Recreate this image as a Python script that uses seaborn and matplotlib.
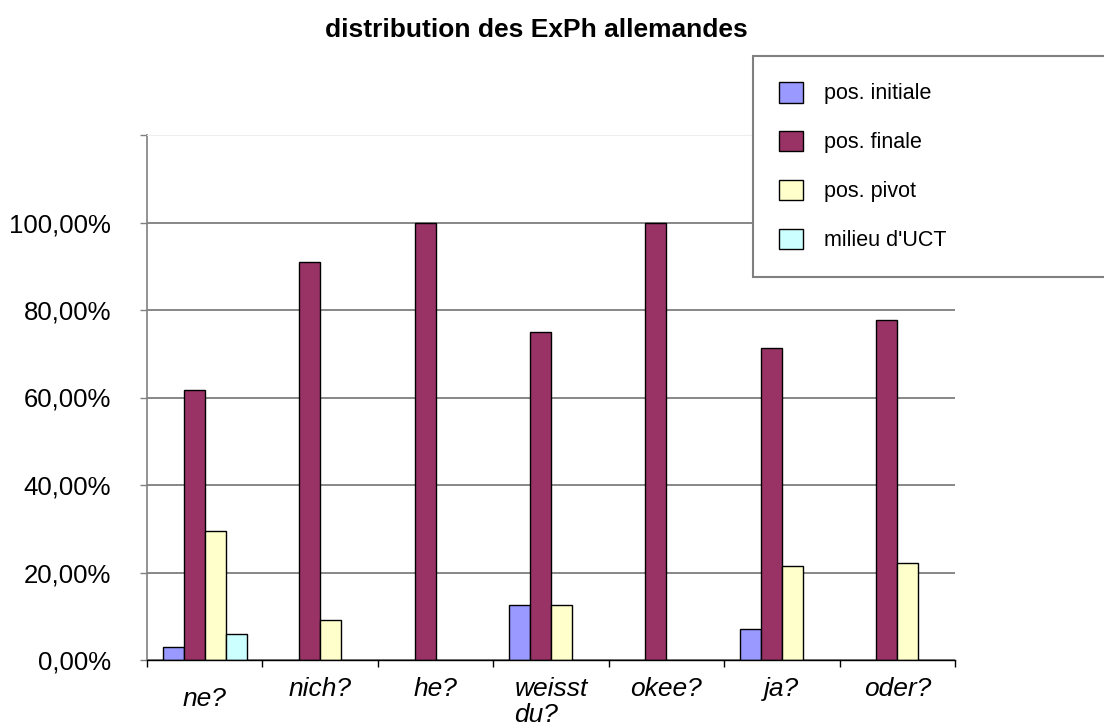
import numpy as np
import pandas as pd
import seaborn as sns
import matplotlib.pyplot as plt
from matplotlib.patches import Patch
from matplotlib.transforms import ScaledTranslation

# values (fractions)
categories = ["ne?", "nich?", "he?", "weisst\ndu?", "okee?", "ja?", "oder?"]
series = ["pos. initiale", "pos. finale", "pos. pivot", "milieu d'UCT"]
pos_initiale = [0.030, 0.0, 0.0, 0.125, 0.0, 0.071, 0.0]
pos_finale = [0.617, 0.909, 1.0, 0.750, 1.0, 0.714, 0.778]
pos_pivot = [0.294, 0.091, 0.0, 0.125, 0.0, 0.215, 0.222]
milieu_uct = [0.059, 0.0, 0.0, 0.0, 0.0, 0.0, 0.0]
colors = ["#9999FF", "#993366", "#FFFFCC", "#CCFFFF"]
yticks = [0.0, 0.2, 0.4, 0.6, 0.8, 1.0, 1.2]

rows = []
for s, vals in zip(series, [pos_initiale, pos_finale, pos_pivot, milieu_uct]):
    for c, v in zip(categories, vals):
        if v > 0:
            rows.append({"cat": c, "series": s, "value": v})
df = pd.DataFrame(rows)

sns.set_style("white")
plt.rcParams["font.family"] = ["Liberation Sans", "DejaVu Sans"]
plt.rcParams["text.color"] = "black"
plt.rcParams["xtick.color"] = "black"
plt.rcParams["ytick.color"] = "black"

fig = plt.figure(figsize=(11.04, 7.28), dpi=100)
ax = fig.add_axes([147 / 1104, 1 - 660 / 728, (955 - 147) / 1104, (660 - 135) / 728])

sns.barplot(data=df, x="cat", y="value", hue="series", order=categories,
            hue_order=series, palette=colors, width=0.73, errorbar=None,
            edgecolor="black", linewidth=1, saturation=1, legend=False, ax=ax)

ax.set_xlim(-0.5, len(categories) - 0.5)
ax.set_ylim(0, 1.2)
ax.set_xlabel("")
ax.set_ylabel("")

# y axis
ax.set_yticks(yticks)
ax.set_yticklabels([(f"{v * 100:.2f}%").replace(".", ",") if v < 1.1 else "" for v in yticks],
                   fontsize=18.5, color="black")
ax.tick_params(axis="y", length=5, color="#808080", width=1, pad=21, left=True)
ax.yaxis.grid(True, color="#737373", linewidth=1.2)
ax.get_ygridlines()[-1].set_visible(False)
ax.set_axisbelow(True)

# x axis: labels at centres, tick marks at category boundaries
ax.set_xticks(range(len(categories)))
ax.set_xticklabels(categories, fontsize=19, style="italic", linespacing=1.12,
                   multialignment="left", color="black")
ax.set_xticks(np.arange(-0.5, len(categories), 1.0), minor=True)
ax.tick_params(axis="x", which="major", length=0, pad=12, bottom=True)
ax.tick_params(axis="x", which="minor", length=5, color="black", width=1, bottom=True)
lab0 = ax.get_xticklabels()[0]
lab0.set_transform(lab0.get_transform() + ScaledTranslation(0, -0.10, fig.dpi_scale_trans))

ax.spines["right"].set_visible(False)
ax.spines["top"].set_color("#eeeeee")
ax.spines["left"].set_color("#808080")
ax.spines["left"].set_linewidth(1.2)
ax.spines["bottom"].set_color("black")
ax.spines["bottom"].set_linewidth(1)

fig.text(536 / 1104, 1 - 30 / 728, "distribution des ExPh allemandes",
         ha="center", va="center", fontsize=19, fontweight="bold", color="black")

handles = [Patch(facecolor=c, edgecolor="black", linewidth=1, label=s)
           for c, s in zip(colors, series)]
leg = fig.legend(handles=handles, loc="upper left",
                 bbox_to_anchor=(753 / 1104, 1 - 56 / 728, 0.32, 0),
                 mode="expand", borderaxespad=0, fontsize=15.5,
                 labelspacing=1.22, borderpad=1.2, handlelength=1.1,
                 handleheight=1.1, handletextpad=1.0, fancybox=False,
                 framealpha=1)
leg.get_frame().set_edgecolor("#808080")
leg.get_frame().set_linewidth(1.5)
for t in leg.get_texts():
    t.set_color("black")

fig.savefig("out.png", dpi=100)
